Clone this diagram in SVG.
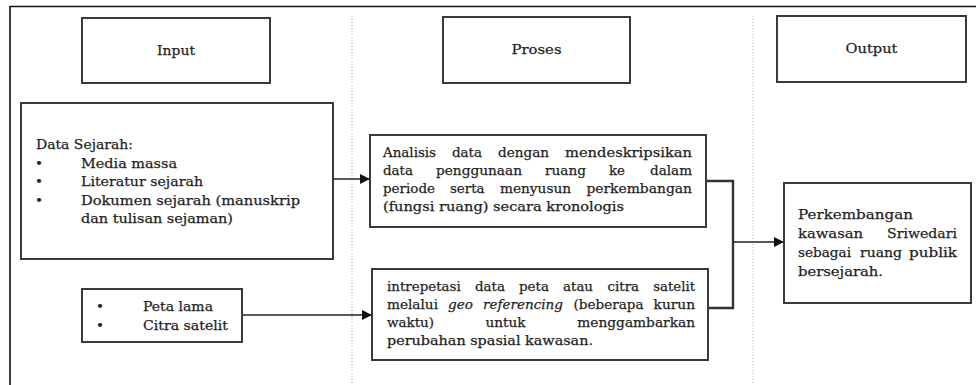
<svg xmlns="http://www.w3.org/2000/svg" width="976" height="385" viewBox="0 0 976 385">
<style>
.box{fill:#fff;stroke:#3a3a3a;stroke-width:2}
.t{font-family:"DejaVu Serif","Liberation Serif",serif;font-size:13.5px;fill:#1e1e1e;stroke:#1e1e1e;stroke-width:0.25}
.c{text-anchor:middle}
.sep{stroke:#b0b0b0;stroke-width:1;stroke-dasharray:1 2;fill:none}
.frame{stroke:#111;stroke-width:1.6;fill:none}
.conn{stroke:#222;stroke-width:1.6;fill:none}
.br{stroke:#333;stroke-width:2.4;fill:none}
</style>
<defs>
<marker id="ah" markerUnits="userSpaceOnUse" markerWidth="10" markerHeight="10" refX="10" refY="5" orient="auto">
<path d="M0,0 L10,5 L0,10 z" fill="#111"/>
</marker>
</defs>
<rect width="976" height="385" fill="#fff"/>
<g id="frame">
<path class="frame" d="M10,385 V6.5 H976"/>
<path class="sep" d="M352,16 V385"/>
<path class="sep" d="M753,16 V385"/>
</g>
<g id="connectors">
<path class="conn" d="M333,179 H370" marker-end="url(#ah)"/>
<path class="conn" d="M242,315 H372" marker-end="url(#ah)"/>
<path class="br" d="M706,181 H733 V308 H708"/>
<path class="conn" d="M733,242 H784" marker-end="url(#ah)"/>
</g>
<g id="input">
<rect class="box" x="82" y="18" width="188" height="65"/>
<text class="t c" x="176" y="55" textLength="38" lengthAdjust="spacingAndGlyphs">Input</text>
</g>
<g id="proses">
<rect class="box" x="443" y="17" width="187" height="66"/>
<text class="t c" x="536.5" y="54" textLength="50" lengthAdjust="spacingAndGlyphs">Proses</text>
</g>
<g id="output">
<rect class="box" x="777" y="16" width="189" height="66"/>
<text class="t c" x="871.5" y="53" textLength="52" lengthAdjust="spacingAndGlyphs">Output</text>
</g>
<g id="data-sejarah">
<rect class="box" x="21" y="103" width="312" height="156"/>
<text class="t" x="36" y="149" textLength="97" lengthAdjust="spacingAndGlyphs">Data Sejarah:</text>
<text class="t" x="35" y="167.5">•</text>
<text class="t" x="35" y="186">•</text>
<text class="t" x="35" y="204.5">•</text>
<text class="t" x="81" y="167.5" textLength="96" lengthAdjust="spacingAndGlyphs">Media massa</text>
<text class="t" x="81" y="186" textLength="122" lengthAdjust="spacingAndGlyphs">Literatur sejarah</text>
<text class="t" x="81" y="204.5" textLength="219" lengthAdjust="spacingAndGlyphs">Dokumen sejarah (manuskrip</text>
<text class="t" x="81" y="223" textLength="152" lengthAdjust="spacingAndGlyphs">dan tulisan sejaman)</text>
</g>
<g id="peta">
<rect class="box" x="82" y="289" width="160" height="53"/>
<text class="t" x="96" y="311">•</text>
<text class="t" x="96" y="329.5">•</text>
<text class="t" x="143" y="311" textLength="70" lengthAdjust="spacingAndGlyphs">Peta lama</text>
<text class="t" x="143" y="329.5" textLength="85" lengthAdjust="spacingAndGlyphs">Citra satelit</text>
</g>
<g id="analisis">
<rect class="box" x="370" y="135" width="336" height="92"/>
<text class="t" y="157" lengthAdjust="spacingAndGlyphs"><tspan x="383" textLength="53" lengthAdjust="spacingAndGlyphs">Analisis</tspan> <tspan x="452" textLength="30" lengthAdjust="spacingAndGlyphs">data</tspan> <tspan x="498" textLength="51" lengthAdjust="spacingAndGlyphs">dengan</tspan> <tspan x="565" textLength="127" lengthAdjust="spacingAndGlyphs">mendeskripsikan</tspan></text>
<text class="t" y="175"><tspan x="383" textLength="30" lengthAdjust="spacingAndGlyphs">data</tspan> <tspan x="436" textLength="86" lengthAdjust="spacingAndGlyphs">penggunaan</tspan> <tspan x="545" textLength="41" lengthAdjust="spacingAndGlyphs">ruang</tspan> <tspan x="609" textLength="16" lengthAdjust="spacingAndGlyphs">ke</tspan> <tspan x="650" textLength="42" lengthAdjust="spacingAndGlyphs">dalam</tspan></text>
<text class="t" y="193"><tspan x="383" textLength="52" lengthAdjust="spacingAndGlyphs">periode</tspan> <tspan x="450" textLength="34.5" lengthAdjust="spacingAndGlyphs">serta</tspan> <tspan x="500" textLength="71" lengthAdjust="spacingAndGlyphs">menyusun</tspan> <tspan x="586.4" textLength="105.6" lengthAdjust="spacingAndGlyphs">perkembangan</tspan></text>
<text class="t" x="383" y="211" textLength="241" lengthAdjust="spacingAndGlyphs">(fungsi ruang) secara kronologis</text>
</g>
<g id="intrepetasi">
<rect class="box" x="372" y="269" width="336" height="91"/>
<text class="t" y="291"><tspan x="387" textLength="73.7" lengthAdjust="spacingAndGlyphs">intrepetasi</tspan> <tspan x="475" textLength="30" lengthAdjust="spacingAndGlyphs">data</tspan> <tspan x="519" textLength="30" lengthAdjust="spacingAndGlyphs">peta</tspan> <tspan x="563" textLength="30" lengthAdjust="spacingAndGlyphs">atau</tspan> <tspan x="607.5" textLength="31.5" lengthAdjust="spacingAndGlyphs">citra</tspan> <tspan x="653.3" textLength="41.7" lengthAdjust="spacingAndGlyphs">satelit</tspan></text>
<text class="t" y="309"><tspan x="387" textLength="51" lengthAdjust="spacingAndGlyphs">melalui</tspan> <tspan x="448" font-style="italic" textLength="25" lengthAdjust="spacingAndGlyphs">geo</tspan> <tspan x="483" font-style="italic" textLength="80" lengthAdjust="spacingAndGlyphs">referencing</tspan> <tspan x="573.5" textLength="70" lengthAdjust="spacingAndGlyphs">(beberapa</tspan> <tspan x="653.6" textLength="41.4" lengthAdjust="spacingAndGlyphs">kurun</tspan></text>
<text class="t" y="327"><tspan x="387" textLength="47" lengthAdjust="spacingAndGlyphs">waktu)</tspan> <tspan x="485.6" textLength="40" lengthAdjust="spacingAndGlyphs">untuk</tspan> <tspan x="577.3" textLength="117.7" lengthAdjust="spacingAndGlyphs">menggambarkan</tspan></text>
<text class="t" x="387" y="345" textLength="206" lengthAdjust="spacingAndGlyphs">perubahan spasial kawasan.</text>
</g>
<g id="perkembangan">
<rect class="box" x="784" y="183" width="187" height="120"/>
<text class="t" x="798" y="219" textLength="115" lengthAdjust="spacingAndGlyphs">Perkembangan</text>
<text class="t" y="238"><tspan x="798" textLength="65" lengthAdjust="spacingAndGlyphs">kawasan</tspan> <tspan x="887" textLength="70" lengthAdjust="spacingAndGlyphs">Sriwedari</tspan></text>
<text class="t" y="257"><tspan x="798" textLength="53" lengthAdjust="spacingAndGlyphs">sebagai</tspan> <tspan x="860" textLength="42" lengthAdjust="spacingAndGlyphs">ruang</tspan> <tspan x="909" textLength="48" lengthAdjust="spacingAndGlyphs">publik</tspan></text>
<text class="t" x="798" y="276" textLength="85" lengthAdjust="spacingAndGlyphs">bersejarah.</text>
</g>
</svg>
